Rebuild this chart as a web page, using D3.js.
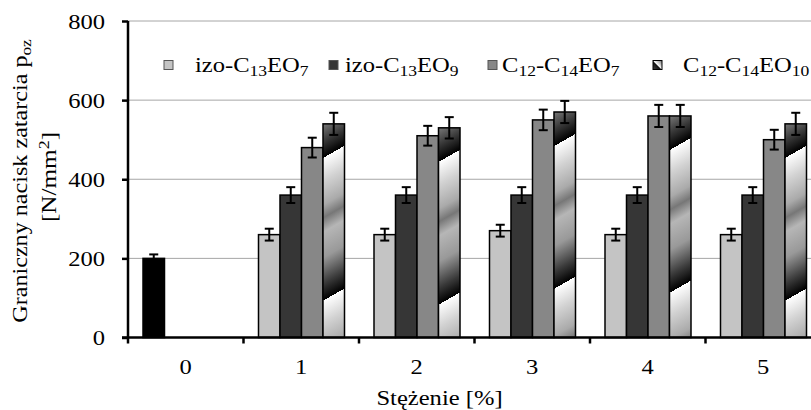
<!DOCTYPE html>
<html><head><meta charset="utf-8">
<script src="https://cdn.jsdelivr.net/npm/d3@7"></script>
<style>body{margin:0;background:#fff}svg{display:block}text{font-family:"Liberation Serif","Times New Roman",serif;fill:#000}</style>
</head><body><svg id="c" width="811" height="410"></svg>
<script>
// ---- data ----
const categories = ["0", "1", "2", "3", "4", "5"];
const seriesNames = ["izo-C13EO7", "izo-C13EO9", "C12-C14EO7", "C12-C14EO10"];
const izoC13EO7 = [200, 260, 260, 270, 260, 260];
const izoC13EO7Err = [10, 15, 15, 15, 15, 15];
const izoC13EO9 = [null, 360, 360, 360, 360, 360];
const izoC13EO9Err = [null, 20, 20, 20, 20, 20];
const C12C14EO7 = [null, 480, 510, 550, 560, 500];
const C12C14EO7Err = [null, 25, 25, 26, 28, 25];
const C12C14EO10 = [null, 540, 530, 570, 560, 540];
const C12C14EO10Err = [null, 28, 27, 28, 28, 28];
const yTicks = [0, 200, 400, 600, 800];
const xTitle = "Stężenie [%]";
const yTitle1 = ["Graniczny nacisk zatarcia p", "oz"];
const yTitle2 = ["[N/mm", "2", "]"];

const seriesValues = [izoC13EO7, izoC13EO9, C12C14EO7, C12C14EO10];
const seriesErrs = [izoC13EO7Err, izoC13EO9Err, C12C14EO7Err, C12C14EO10Err];
const fills = ["#c4c4c4", "#363636", "#878787", null];

const FS = 21, SUB = 15, SX = 1.17;
const svg = d3.select("#c");
const defs = svg.append("defs");
const pLeft = 128, pRight = 821, pTop = 21, pBottom = 337.5;
const x = d3.scaleBand().domain(categories).range([pLeft, pRight]).paddingInner(0).paddingOuter(0);
const xs = d3.scaleBand().domain(d3.range(4)).range([15, x.bandwidth() - 14.5]).paddingInner(0).paddingOuter(0);
const y = d3.scaleLinear().domain([0, 800]).range([pBottom, pTop]);

// stretched text helper: parts = [[string, kind]] kind 0 normal, 1 sub, 2 sup
function addText(parent, tx, ty, anchor, parts, rot, sx) {
  const g = parent.append("g").attr("transform", `translate(${tx},${ty})` + (rot ? ` rotate(${rot})` : "") + ` scale(${sx || SX},1)`);
  const t = g.append("text").attr("text-anchor", anchor).attr("font-size", FS);
  let cur = 0;
  parts.forEach(p => {
    const ts = t.append("tspan").text(p[0]);
    const off = p[1] === 1 ? 4 : p[1] === 2 ? -7 : 0;
    if (off !== cur) { ts.attr("dy", off - cur); cur = off; }
    if (p[1] !== 0) ts.attr("font-size", SUB);
  });
  return t;
}

// gradient stops for striped series
const stops = [[0, "#ffffff"], [0.16, "#d2d2d2"], [0.33, "#aaaaaa"], [0.42, "#777777"], [0.52, "#b6b6b6"], [0.7, "#999999"], [0.88, "#3a3a3a"], [1, "#000000"]];
function makeGrad(id, cx, cy) {
  const nx = 0.496, ny = 0.868, P = 124;
  const g = defs.append("linearGradient").attr("id", id).attr("gradientUnits", "userSpaceOnUse")
    .attr("spreadMethod", "repeat")
    .attr("x1", cx).attr("y1", cy).attr("x2", cx + nx * P).attr("y2", cy + ny * P);
  stops.forEach(s => g.append("stop").attr("offset", s[0]).attr("stop-color", s[1]));
}

// gridlines
svg.append("g").selectAll("line").data(yTicks.filter(d => d > 0)).join("line")
  .attr("x1", pLeft).attr("x2", 811).attr("y1", d => y(d)).attr("y2", d => y(d))
  .attr("stroke", "#a6a6a6").attr("stroke-width", 1);

// bars
const barsG = svg.append("g");
seriesValues.forEach((vals, si) => {
  vals.forEach((v, ci) => {
    if (v == null) return;
    const bx = x(categories[ci]) + xs(si), bw = xs.bandwidth();
    let fill = fills[si];
    if (si === 0 && ci === 0) fill = "#000";
    if (si === 3) {
      const id = "g" + ci;
      makeGrad(id, bx + bw / 2, y(v) + 28);
      fill = "url(#" + id + ")";
    }
    barsG.append("rect").attr("x", bx).attr("y", y(v)).attr("width", bw).attr("height", y(0) - y(v))
      .attr("fill", fill).attr("stroke", "#000").attr("stroke-width", 1.5);
  });
});
// error bars
const errG = svg.append("g").attr("stroke", "#000").attr("stroke-width", 2);
seriesValues.forEach((vals, si) => {
  vals.forEach((v, ci) => {
    if (v == null) return;
    const e = seriesErrs[si][ci];
    const cx = x(categories[ci]) + xs(si) + xs.bandwidth() / 2;
    errG.append("line").attr("x1", cx).attr("x2", cx).attr("y1", y(v - e)).attr("y2", y(v + e));
    errG.append("line").attr("x1", cx - 4.5).attr("x2", cx + 4.5).attr("y1", y(v + e)).attr("y2", y(v + e));
    errG.append("line").attr("x1", cx - 4.5).attr("x2", cx + 4.5).attr("y1", y(v - e)).attr("y2", y(v - e));
  });
});

// y axis
const yAxis = svg.append("g").attr("transform", `translate(${pLeft},0)`)
  .call(d3.axisLeft(y).tickValues(yTicks).tickSize(6).tickFormat(""));
yAxis.select(".domain").attr("stroke", "#000").attr("stroke-width", 2.5).attr("d", `M0,${pTop}V${pBottom}`);
yAxis.selectAll(".tick line").attr("stroke", "#000").attr("stroke-width", 2.5);
yTicks.forEach(v => addText(svg, 105, y(v) + 7.5, "end", [[String(v), 0]]));

// x axis
const xAxisG = svg.append("g").attr("transform", `translate(0,${pBottom})`);
xAxisG.append("line").attr("x1", pLeft - 6).attr("x2", 811).attr("y1", 0).attr("y2", 0).attr("stroke", "#000").attr("stroke-width", 2.5);
xAxisG.selectAll("line.t").data(categories).join("line").attr("class", "t")
  .attr("x1", d => x(d)).attr("x2", d => x(d)).attr("y1", 0).attr("y2", 6)
  .attr("stroke", "#000").attr("stroke-width", 2.5);
categories.forEach(c => addText(svg, x(c) + x.bandwidth() / 2, 374, "middle", [[c, 0]]));

// axis titles
addText(svg, 439.5, 404.5, "middle", [[xTitle, 0]]);
addText(svg, 27, 181, "middle", [[yTitle1[0], 0], [yTitle1[1], 1]], -90, 1.15);
addText(svg, 56, 177, "middle", [[yTitle2[0], 0], [yTitle2[1], 2], [yTitle2[2], 0]], -90, 1.2);

// legend
const legendItems = [
  {parts: [["izo-C", 0], ["13", 1], ["EO", 0], ["7", 1]], sx: 164, tx: 195},
  {parts: [["izo-C", 0], ["13", 1], ["EO", 0], ["9", 1]], sx: 329, tx: 345},
  {parts: [["C", 0], ["12", 1], ["-C", 0], ["14", 1], ["EO", 0], ["7", 1]], sx: 488, tx: 502},
  {parts: [["C", 0], ["12", 1], ["-C", 0], ["14", 1], ["EO", 0], ["10", 1]], sx: 653, tx: 683}
];
const lg = defs.append("linearGradient").attr("id", "glp").attr("x1", 0).attr("y1", 1).attr("x2", 1).attr("y2", 0);
[[0, "#444"], [0.45, "#111"], [0.5, "#fff"], [0.8, "#aaa"], [1, "#666"]].forEach(s => lg.append("stop").attr("offset", s[0]).attr("stop-color", s[1]));
const legG = svg.append("g");
legendItems.forEach((it, i) => {
  legG.append("rect").attr("x", it.sx).attr("y", 60.5).attr("width", 9).attr("height", 9)
    .attr("fill", i === 3 ? "url(#glp)" : fills[i]).attr("stroke", i === 3 ? "#000" : "#555").attr("stroke-width", 1);
  addText(legG, it.tx, 72, "start", it.parts);
});
</script></body></html>
